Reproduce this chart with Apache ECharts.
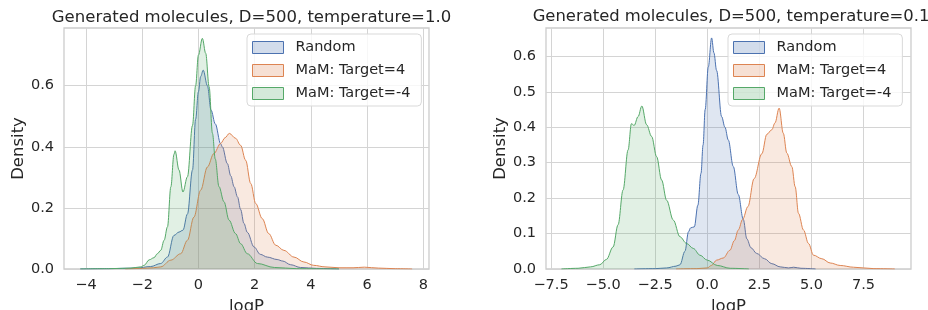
<!DOCTYPE html>
<html>
<head>
<meta charset="utf-8">
<script src="https://cdn.jsdelivr.net/npm/echarts@6/dist/echarts.min.js"></script>
<style>
  html, body { margin: 0; padding: 0; background: #fff; }
  #chart { width: 928px; height: 310px; }
</style>
</head>
<body>
<div id="chart"></div>
<script>
// KDE curves, [logP, density]
const seriesNames = ['Random', 'MaM: Target=4', 'MaM: Target=-4'];
const lineColors = ['#4C72B0', '#DD8452', '#55A868'];
const fillColors = ['rgba(76,114,176,0.25)', 'rgba(221,132,82,0.25)', 'rgba(85,168,104,0.25)'];

// temperature = 1.0
const randomT10 = [[-4.2,0],[-3.2,0.001],[-2.2,0.003],[-1.7,0.008],[-1.34,0.018],[-1.1,0.039],[-0.87,0.11],[-0.69,0.121],[-0.55,0.127],[-0.39,0.18],[-0.21,0.324],[-0.1,0.49],[0.0,0.58],[0.08,0.63],[0.17,0.651],[0.32,0.6],[0.45,0.52],[0.6,0.475],[0.79,0.41],[0.85,0.4],[1.03,0.345],[1.15,0.305],[1.27,0.269],[1.39,0.236],[1.5,0.195],[1.62,0.149],[1.74,0.12],[1.98,0.072],[2.2,0.048],[2.45,0.039],[2.8,0.031],[3.0,0.026],[3.28,0.014],[3.63,0.005],[4.2,0.002],[5.0,0]];
const target4T10 = [[-2.6,0],[-2,0.002],[-1.6,0.004],[-1.34,0.007],[-0.98,0.029],[-0.63,0.05],[-0.39,0.094],[-0.16,0.17],[0.08,0.258],[0.32,0.334],[0.55,0.378],[0.79,0.411],[0.95,0.43],[1.1,0.444],[1.32,0.428],[1.5,0.405],[1.68,0.356],[1.86,0.28],[2.04,0.214],[2.27,0.165],[2.5,0.116],[2.75,0.078],[3.04,0.061],[3.4,0.039],[3.75,0.023],[4.1,0.012],[4.5,0.007],[5.0,0.004],[5.5,0.004],[5.9,0.006],[6.4,0.003],[7.0,0.001],[7.6,0]];
const targetM4T10 = [[-4.2,0],[-3.2,0.001],[-2.4,0.003],[-2.05,0.007],[-1.93,0.012],[-1.75,0.03],[-1.58,0.037],[-1.46,0.05],[-1.34,0.061],[-1.22,0.094],[-1.1,0.138],[-0.98,0.269],[-0.87,0.375],[-0.83,0.387],[-0.69,0.324],[-0.55,0.252],[-0.39,0.302],[-0.21,0.47],[-0.1,0.6],[0.0,0.7],[0.14,0.755],[0.26,0.706],[0.38,0.597],[0.5,0.444],[0.6,0.36],[0.73,0.27],[0.91,0.22],[1.09,0.16],[1.32,0.116],[1.5,0.083],[1.74,0.05],[2.1,0.018],[2.7,0.005],[3.5,0.001],[5,0]];

// temperature = 0.1
const randomT01 = [[-3.5,0],[-2.5,0.001],[-1.95,0.003],[-1.5,0.008],[-1.31,0.012],[-1.07,0.05],[-0.9,0.105],[-0.8,0.116],[-0.62,0.119],[-0.45,0.18],[-0.3,0.27],[-0.2,0.35],[-0.1,0.45],[0.05,0.57],[0.21,0.652],[0.32,0.61],[0.45,0.56],[0.69,0.43],[0.85,0.4],[1.01,0.364],[1.25,0.289],[1.49,0.21],[1.73,0.14],[1.9,0.085],[2.1,0.06],[2.37,0.044],[2.75,0.029],[3.1,0.015],[3.5,0.006],[3.9,0.003],[4.15,0.005],[4.5,0.002],[5.2,0]];
const target4T01 = [[-1.5,0],[-0.5,0.001],[0,0.003],[0.2,0.01],[0.45,0.025],[0.77,0.031],[1.09,0.053],[1.3,0.08],[1.49,0.11],[1.7,0.14],[1.95,0.176],[2.25,0.255],[2.62,0.325],[2.86,0.38],[3.1,0.393],[3.25,0.412],[3.45,0.454],[3.65,0.383],[3.82,0.327],[4.06,0.289],[4.22,0.232],[4.38,0.157],[4.62,0.11],[4.86,0.072],[5.1,0.039],[5.5,0.029],[5.9,0.017],[6.38,0.01],[7.02,0.005],[8,0.001],[9,0]];
const targetM4T01 = [[-7,0],[-6.2,0.002],[-5.6,0.006],[-5.16,0.012],[-4.84,0.027],[-4.52,0.062],[-4.28,0.125],[-4.04,0.223],[-3.8,0.336],[-3.64,0.41],[-3.51,0.405],[-3.32,0.43],[-3.14,0.46],[-2.91,0.407],[-2.67,0.374],[-2.43,0.317],[-2.19,0.251],[-1.95,0.194],[-1.63,0.138],[-1.31,0.091],[-0.99,0.072],[-0.67,0.058],[-0.35,0.039],[0.0,0.025],[0.48,0.01],[1.1,0.002],[2,0]];

const xTicksLeft = [-4, -2, 0, 2, 4, 6, 8];
const yTicksLeft = [0, 0.2, 0.4, 0.6];
const xTicksRight = [-7.5, -5, -2.5, 0, 2.5, 5, 7.5];
const yTicksRight = [0, 0.1, 0.2, 0.3, 0.4, 0.5, 0.6];

const FONT = 'DejaVu Sans';
const TXT = '#262626';
const minus = s => String(s).replace('-', '\u2212');

function xAxis(idx, min, max, ticks, digits) {
    return {
        type: 'value', gridIndex: idx, min: min, max: max,
        name: 'logP', nameLocation: 'middle', nameGap: 25,
        nameTextStyle: { fontFamily: FONT, fontSize: 16.5, color: TXT },
        axisLine: { show: false },
        axisTick: { show: false, customValues: ticks },
        axisLabel: { customValues: ticks, margin: 9, fontFamily: FONT, fontSize: 14.5, color: TXT,
                     formatter: v => minus(v.toFixed(digits)) },
        splitLine: { show: true, lineStyle: { color: '#d4d4d4', width: 1 } }
    };
}
function yAxis(idx, max, ticks) {
    return {
        type: 'value', gridIndex: idx, min: 0, max: max,
        name: 'Density', nameLocation: 'middle', nameGap: 37,
        nameTextStyle: { fontFamily: FONT, fontSize: 16.5, color: TXT },
        axisLine: { show: false },
        axisTick: { show: false, customValues: ticks },
        axisLabel: { customValues: ticks, margin: 10, fontFamily: FONT, fontSize: 14.5, color: TXT,
                     formatter: v => v.toFixed(1) },
        splitLine: { show: true, lineStyle: { color: '#d4d4d4', width: 1 } }
    };
}
function kde(name, k, data, idx) {
    return {
        name: name, type: 'line', xAxisIndex: idx, yAxisIndex: idx,
        data: data, smooth: 0.35, smoothMonotone: 'x', showSymbol: false, symbol: 'none',
        lineStyle: { color: lineColors[k], width: 1 },
        itemStyle: { color: lineColors[k] },
        areaStyle: { color: fillColors[k] },
        z: 2 + k
    };
}
function legend(left) {
    return {
        orient: 'vertical', left: left, top: 34,
        padding: [6, 11, 5, 5], itemGap: 8, itemWidth: 31, itemHeight: 12,
        backgroundColor: 'rgba(255,255,255,0.8)', borderColor: '#d9d9d9', borderWidth: 1, borderRadius: 4,
        textStyle: { fontFamily: FONT, fontSize: 14.5, color: TXT, padding: [0, 0, 0, 7] },
        data: seriesNames.map((n, k) => ({
            name: n, icon: 'rect',
            itemStyle: { color: fillColors[k], borderColor: lineColors[k], borderWidth: 1 }
        }))
    };
}

const option = {
    animation: false,
    backgroundColor: '#fff',
    title: [
        { text: 'Generated molecules, D=500, temperature=1.0', left: 246.5, top: 4, textAlign: 'center',
          textStyle: { fontFamily: FONT, fontSize: 16.5, fontWeight: 'normal', color: TXT } },
        { text: 'Generated molecules, D=500, temperature=0.1', left: 726, top: 4, textAlign: 'center',
          textStyle: { fontFamily: FONT, fontSize: 16.4, fontWeight: 'normal', color: TXT } }
    ],
    legend: [legend(247), legend(728)],
    grid: [
        { left: 64, right: 499, top: 28, bottom: 41, outerBoundsMode: 'none', containLabel: false,
          show: true, borderColor: '#cccccc', borderWidth: 1.3 },
        { left: 546, right: 17, top: 28, bottom: 41, outerBoundsMode: 'none', containLabel: false,
          show: true, borderColor: '#cccccc', borderWidth: 1.3 }
    ],
    xAxis: [xAxis(0, -4.78, 8.2, xTicksLeft, 0), xAxis(1, -7.74, 9.78, xTicksRight, 1)],
    yAxis: [yAxis(0, 0.789, yTicksLeft), yAxis(1, 0.68, yTicksRight)],
    series: [
        kde(seriesNames[0], 0, randomT10, 0),
        kde(seriesNames[1], 1, target4T10, 0),
        kde(seriesNames[2], 2, targetM4T10, 0),
        kde(seriesNames[0], 0, randomT01, 1),
        kde(seriesNames[1], 1, target4T01, 1),
        kde(seriesNames[2], 2, targetM4T01, 1)
    ]
};

const myChart = echarts.init(document.getElementById('chart'));
myChart.setOption(option);
</script>
</body>
</html>
